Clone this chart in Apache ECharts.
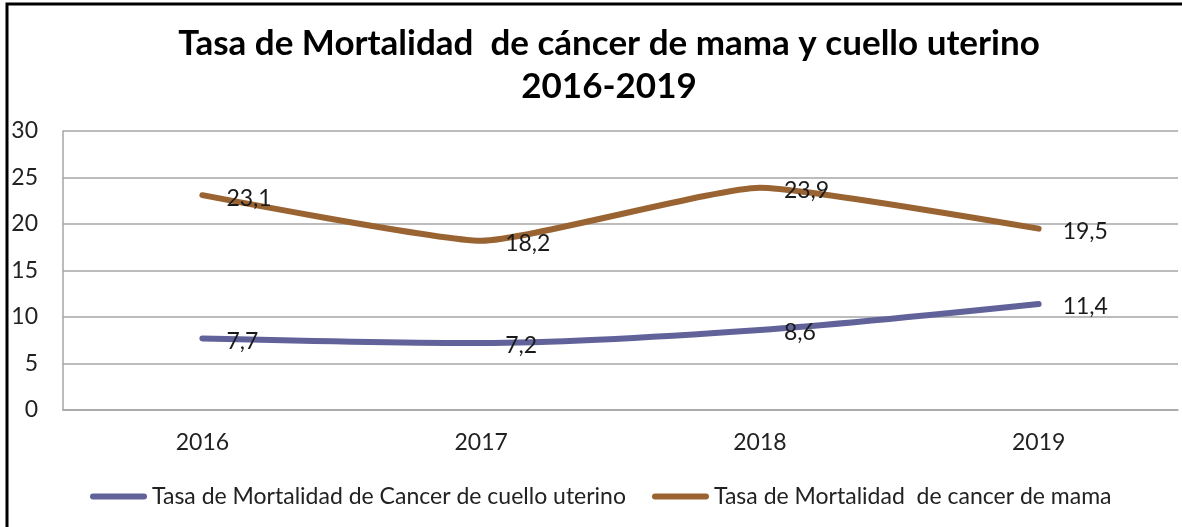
<!DOCTYPE html>
<html>
<head>
<meta charset="utf-8">
<script src="https://cdn.jsdelivr.net/npm/echarts@6/dist/echarts.min.js"></script>
<style>
  html, body { margin: 0; padding: 0; background: #fff; }
  #chart { width: 1182px; height: 527px; }
</style>
</head>
<body>
<div id="chart"></div>
<script>
const titleText = 'Tasa de Mortalidad  de cáncer de mama y cuello uterino\n2016-2019';
const years = ['2016', '2017', '2018', '2019'];
const cuelloName = 'Tasa de Mortalidad de Cancer de cuello uterino';
const mamaName = 'Tasa de Mortalidad  de cancer de mama';
const cuelloValues = [7.7, 7.2, 8.6, 11.4];
const mamaValues = [23.1, 18.2, 23.9, 19.5];

const FONT = 'Lato, Carlito, "Open Sans", sans-serif';
const chart = echarts.init(document.getElementById('chart'), null, { renderer: 'canvas' });

const labelFmt = p => String(p.value).replace('.', ',');
const capsule = 'path://M3,0 L54,0 A3,3 0 0 1 54,6 L3,6 A3,3 0 0 1 3,0 Z';

chart.setOption({
  backgroundColor: '#ffffff',
  animation: false,
  title: {
    text: titleText,
    left: 604,
    textAlign: 'center',
    top: 17,
    textStyle: {
      fontFamily: FONT,
      fontSize: 35,
      fontWeight: 'bold',
      color: '#000',
      lineHeight: 43,
      align: 'center'
    }
  },
  graphic: [{
    type: 'rect',
    shape: { x: 7, y: 4, width: 1200, height: 600 },
    style: { fill: 'none', stroke: '#000', lineWidth: 3 },
    silent: true
  }],
  legend: {
    left: 85,
    top: 480,
    itemWidth: 57,
    itemHeight: 6,
    itemGap: 26,
    textStyle: { fontFamily: FONT, fontSize: 23, color: '#222' },
    data: [
      { name: cuelloName, icon: capsule },
      { name: mamaName, icon: capsule }
    ]
  },
  grid: { left: 63, right: 4, top: 131, bottom: 117, containLabel: false },
  xAxis: {
    type: 'category',
    data: years,
    boundaryGap: true,
    axisLine: { show: true, lineStyle: { color: '#a6a6a6', width: 1.5 } },
    axisTick: { show: false },
    axisLabel: { fontFamily: FONT, fontSize: 23, color: '#222', margin: 21 }
  },
  yAxis: {
    type: 'value',
    min: 0,
    max: 30,
    interval: 5,
    axisLine: { show: true, lineStyle: { color: '#a6a6a6', width: 1.5 } },
    axisTick: { show: false },
    splitLine: { lineStyle: { color: '#a6a6a6', width: 1.5 } },
    axisLabel: { fontFamily: FONT, fontSize: 23, color: '#222', margin: 25 }
  },
  series: [
    {
      name: cuelloName,
      type: 'line',
      data: cuelloValues,
      smooth: 0.3,
      symbol: 'circle',
      symbolSize: 0,
      showSymbol: true,
      lineStyle: { color: '#62629b', width: 6, cap: 'round' },
      itemStyle: { color: '#62629b' },
      label: {
        show: true, position: 'right', distance: 24, offset: [0, 3],
        formatter: labelFmt,
        fontFamily: FONT, fontSize: 23, color: '#1a1a1a'
      }
    },
    {
      name: mamaName,
      type: 'line',
      data: mamaValues,
      smooth: 0.15,
      symbol: 'circle',
      symbolSize: 0,
      showSymbol: true,
      lineStyle: { color: '#9a6332', width: 6, cap: 'round' },
      itemStyle: { color: '#9a6332' },
      label: {
        show: true, position: 'right', distance: 24, offset: [0, 3],
        formatter: labelFmt,
        fontFamily: FONT, fontSize: 23, color: '#1a1a1a'
      }
    }
  ]
});
</script>
</body>
</html>
